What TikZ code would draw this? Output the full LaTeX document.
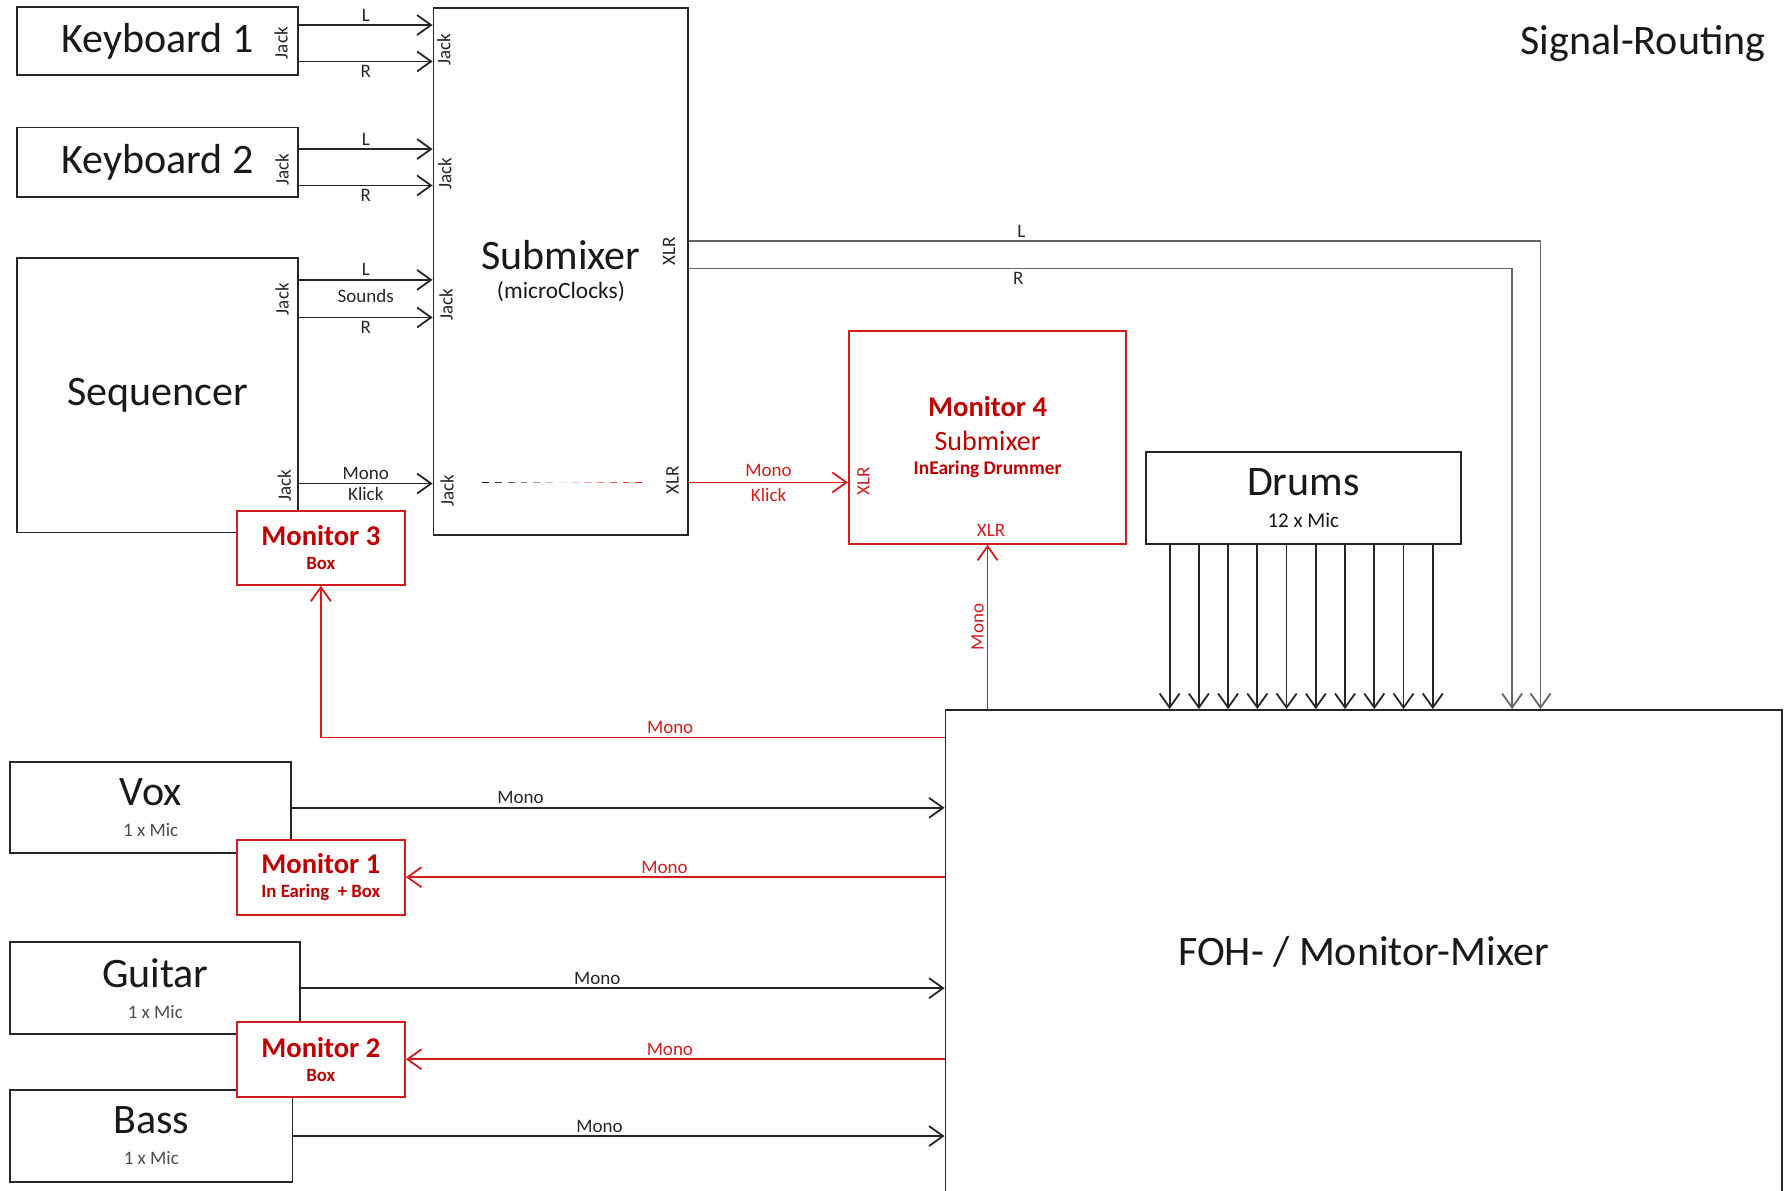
\documentclass[tikz,border=0pt]{standalone}
\usepackage{fontspec}
\setmainfont{Carlito}
\usetikzlibrary{arrows.meta}
\definecolor{monred}{RGB}{210,30,30}
\definecolor{montext}{RGB}{192,0,0}
\definecolor{wire}{RGB}{38,38,38}
\newcommand{\bigtxt}{\fontsize{21}{14}\selectfont}
\newcommand{\midtxt}{\fontsize{11.7}{14}\selectfont}
\newcommand{\smalltxt}{\fontsize{9.5}{11}\selectfont}
\newcommand{\montxt}{\fontsize{14.3}{12}\selectfont\bfseries}
\newcommand{\mictxt}{\fontsize{9.5}{11}\selectfont\color{black!70}}
\tikzset{
  box/.style={draw=wire, line width=0.9pt, fill=white, inner sep=0pt, align=center, font=\bigtxt, text=black!90},
  monbox/.style={draw=monred, line width=0.9pt, fill=white, inner sep=0pt, align=center, text=montext, font=\montxt},
  sig/.style={draw=wire, line width=0.9pt, -{Straight Barb[length=7pt,width=10pt]}},
  ret/.style={sig, draw=monred},
  lbl/.style={font=\smalltxt, text=wire, inner sep=1.5pt},
  rlbl/.style={lbl, text=monred},
  port/.style={lbl, rotate=90},
}
\begin{document}
\begin{tikzpicture}[x=0.2mm, y=-0.2mm]
\useasboundingbox (0,0) rectangle (1568,1046);
\clip (0,0) rectangle (1568,1046);

% sources
\node[box, minimum width=49.4mm, minimum height=12mm] (kb1) at (138.5,36) {Keyboard 1};
\node[box, minimum width=49.4mm, minimum height=12.2mm] (kb2) at (138.5,142.5) {Keyboard 2};
\node[box, minimum width=49.4mm, minimum height=48.2mm] (seq) at (138.5,347.5) {Sequencer};
\node[box, minimum width=44.8mm, minimum height=92.6mm] (sub) at (493,238.5) {Submixer\\[0.5pt]{\midtxt (microClocks)}};
\node[box, minimum width=55.4mm, minimum height=16.2mm] (drums) at (1145.5,437.5) {Drums\\[2pt]{\fontsize{10.5}{12}\selectfont 12 x Mic}};
\node[box, minimum width=49.4mm, minimum height=16mm] (vox) at (132.5,710) {Vox\\[1.5pt]{\mictxt 1 x Mic}};
\node[box, minimum width=51mm, minimum height=16.2mm] (gtr) at (136.5,868.5) {Guitar\\[1.5pt]{\mictxt 1 x Mic}};
\node[box, minimum width=49.6mm, minimum height=16.2mm] (bass) at (133,998.5) {Bass\\[1.5pt]{\mictxt 1 x Mic}};
\node[box, minimum width=147mm, minimum height=85mm] (foh) at (1198.5,836.5) {FOH- / Monitor-Mixer};
\node[font=\bigtxt, text=black!90, inner sep=0pt, anchor=east] (title) at (1552,38) {Signal-Routing};

% monitors
\node[monbox, minimum width=48.8mm, minimum height=37.4mm] (mon4) at (868,384.5)
  {Monitor 4\\[5pt]{\fontsize{14}{12}\selectfont\mdseries Submixer}\\{\fontsize{9.7}{11}\selectfont InEaring Drummer}};
\node[monbox, minimum width=29.6mm, minimum height=13mm] (mon3) at (282,481.5) {Monitor 3\\{\fontsize{9.4}{11}\selectfont Box}};
\node[monbox, minimum width=29.6mm, minimum height=13.2mm] (mon1) at (282,771) {Monitor 1\\{\fontsize{9.4}{11}\selectfont In Earing~ + Box}};
\node[monbox, minimum width=29.6mm, minimum height=13.2mm] (mon2) at (282,931) {Monitor 2\\{\fontsize{9.4}{11}\selectfont Box}};

% connector labels
\node[port] (kb1jack) at (247,38) {Jack};
\node[port] (kb2jack) at (248,149) {Jack};
\node[port] (seqjack) at (248,263) {Jack};
\node[port] (klickjack) at (250,427) {Jack};
\node[port] (subjack1) at (390,44) {Jack};
\node[port] (subjack2) at (391,153) {Jack};
\node[port] (subjack3) at (392,268) {Jack};
\node[port] (subjack4) at (393,431) {Jack};
\node[port] (subxlr1) at (588,221) {XLR};
\node[port] (subxlr2) at (591,422) {XLR};
\node[port, text=monred] (monxlr1) at (759,423) {XLR};
\node[rlbl] (monxlr2) at (871,466) {XLR};

% keyboards and sequencer into submixer
\draw[sig] ([yshift=2.8mm]kb1.east) -- ([yshift=2.8mm]kb1.east -| sub.west) node[lbl, midway, above] {L};
\draw[sig] ([yshift=-3.6mm]kb1.east) -- ([yshift=-3.6mm]kb1.east -| sub.west) node[lbl, midway, below] {R};
\draw[sig] ([yshift=2.3mm]kb2.east) -- ([yshift=2.3mm]kb2.east -| sub.west) node[lbl, midway, above] {L};
\draw[sig] ([yshift=-4.1mm]kb2.east) -- ([yshift=-4.1mm]kb2.east -| sub.west) node[lbl, midway, below] {R};
\draw[sig] ([yshift=20.3mm]seq.east) -- ([yshift=20.3mm]seq.east -| sub.west) node[lbl, midway, above] {L};
\draw[sig] ([yshift=13.7mm]seq.east) -- ([yshift=13.7mm]seq.east -| sub.west)
  node[lbl, midway, above=2mm] {Sounds} node[lbl, midway, below] {R};
\draw[sig] ([yshift=-15.5mm]seq.east) -- ([yshift=-15.5mm]seq.east -| sub.west)
  node[lbl, midway, above] {Mono} node[lbl, midway, below] {Klick};

% klick path through the submixer
\foreach \i in {0,...,12} {
  \pgfmathtruncatemacro\shade{abs(\i-6)*13+12}
  \ifnum\i<6 \def\dashcol{black!\shade}\else\def\dashcol{red!\shade}\fi
  \draw[line width=0.9pt, draw=\dashcol] (424+\i*11.2,424) -- ++(6,0);
}

% submixer outputs
\draw[sig, draw=black!60] ([yshift=5.3mm]sub.east) -| ([xshift=31.1mm]foh.north) node[lbl, pos=0.195, above] {L};
\draw[sig, draw=black!60] ([yshift=0.5mm]sub.east) -| ([xshift=26.1mm]foh.north) node[lbl, pos=0.2, below] {R};
\draw[ret] ([yshift=-37.1mm]sub.east) -- ([yshift=-37.1mm]sub.east -| mon4.west)
  node[rlbl, midway, above=1pt] {Mono} node[rlbl, midway, below=1pt] {Klick};

% drums
\foreach \i in {0,...,9}
  \draw[sig] ([xshift=\i*5.14mm-23.5mm]drums.south) -- ([xshift=\i*5.14mm-23.5mm]drums.south |- foh.north);

% monitor sends
\draw[ret] (mon4.south |- foh.north) -- (mon4.south) node[rlbl, midway, anchor=south, rotate=90] {Mono};
\draw[ret] ([yshift=-5mm]foh.north west) -| (mon3.south) node[rlbl, pos=0.22, above] {Mono};
\draw[ret] (mon1.east -| foh.west) -- (mon1.east) node[rlbl, pos=0.52, above] {Mono};
\draw[ret] (mon2.east -| foh.west) -- (mon2.east) node[rlbl, pos=0.51, above] {Mono};

% mics
\draw[sig] (vox.east) -- (vox.east -| foh.west) node[lbl, pos=0.35, above] {Mono};
\draw[sig] (gtr.east) -- (gtr.east -| foh.west) node[lbl, pos=0.46, above] {Mono};
\draw[sig] (bass.east) -- (bass.east -| foh.west) node[lbl, pos=0.47, above] {Mono};
\end{tikzpicture}
\end{document}
